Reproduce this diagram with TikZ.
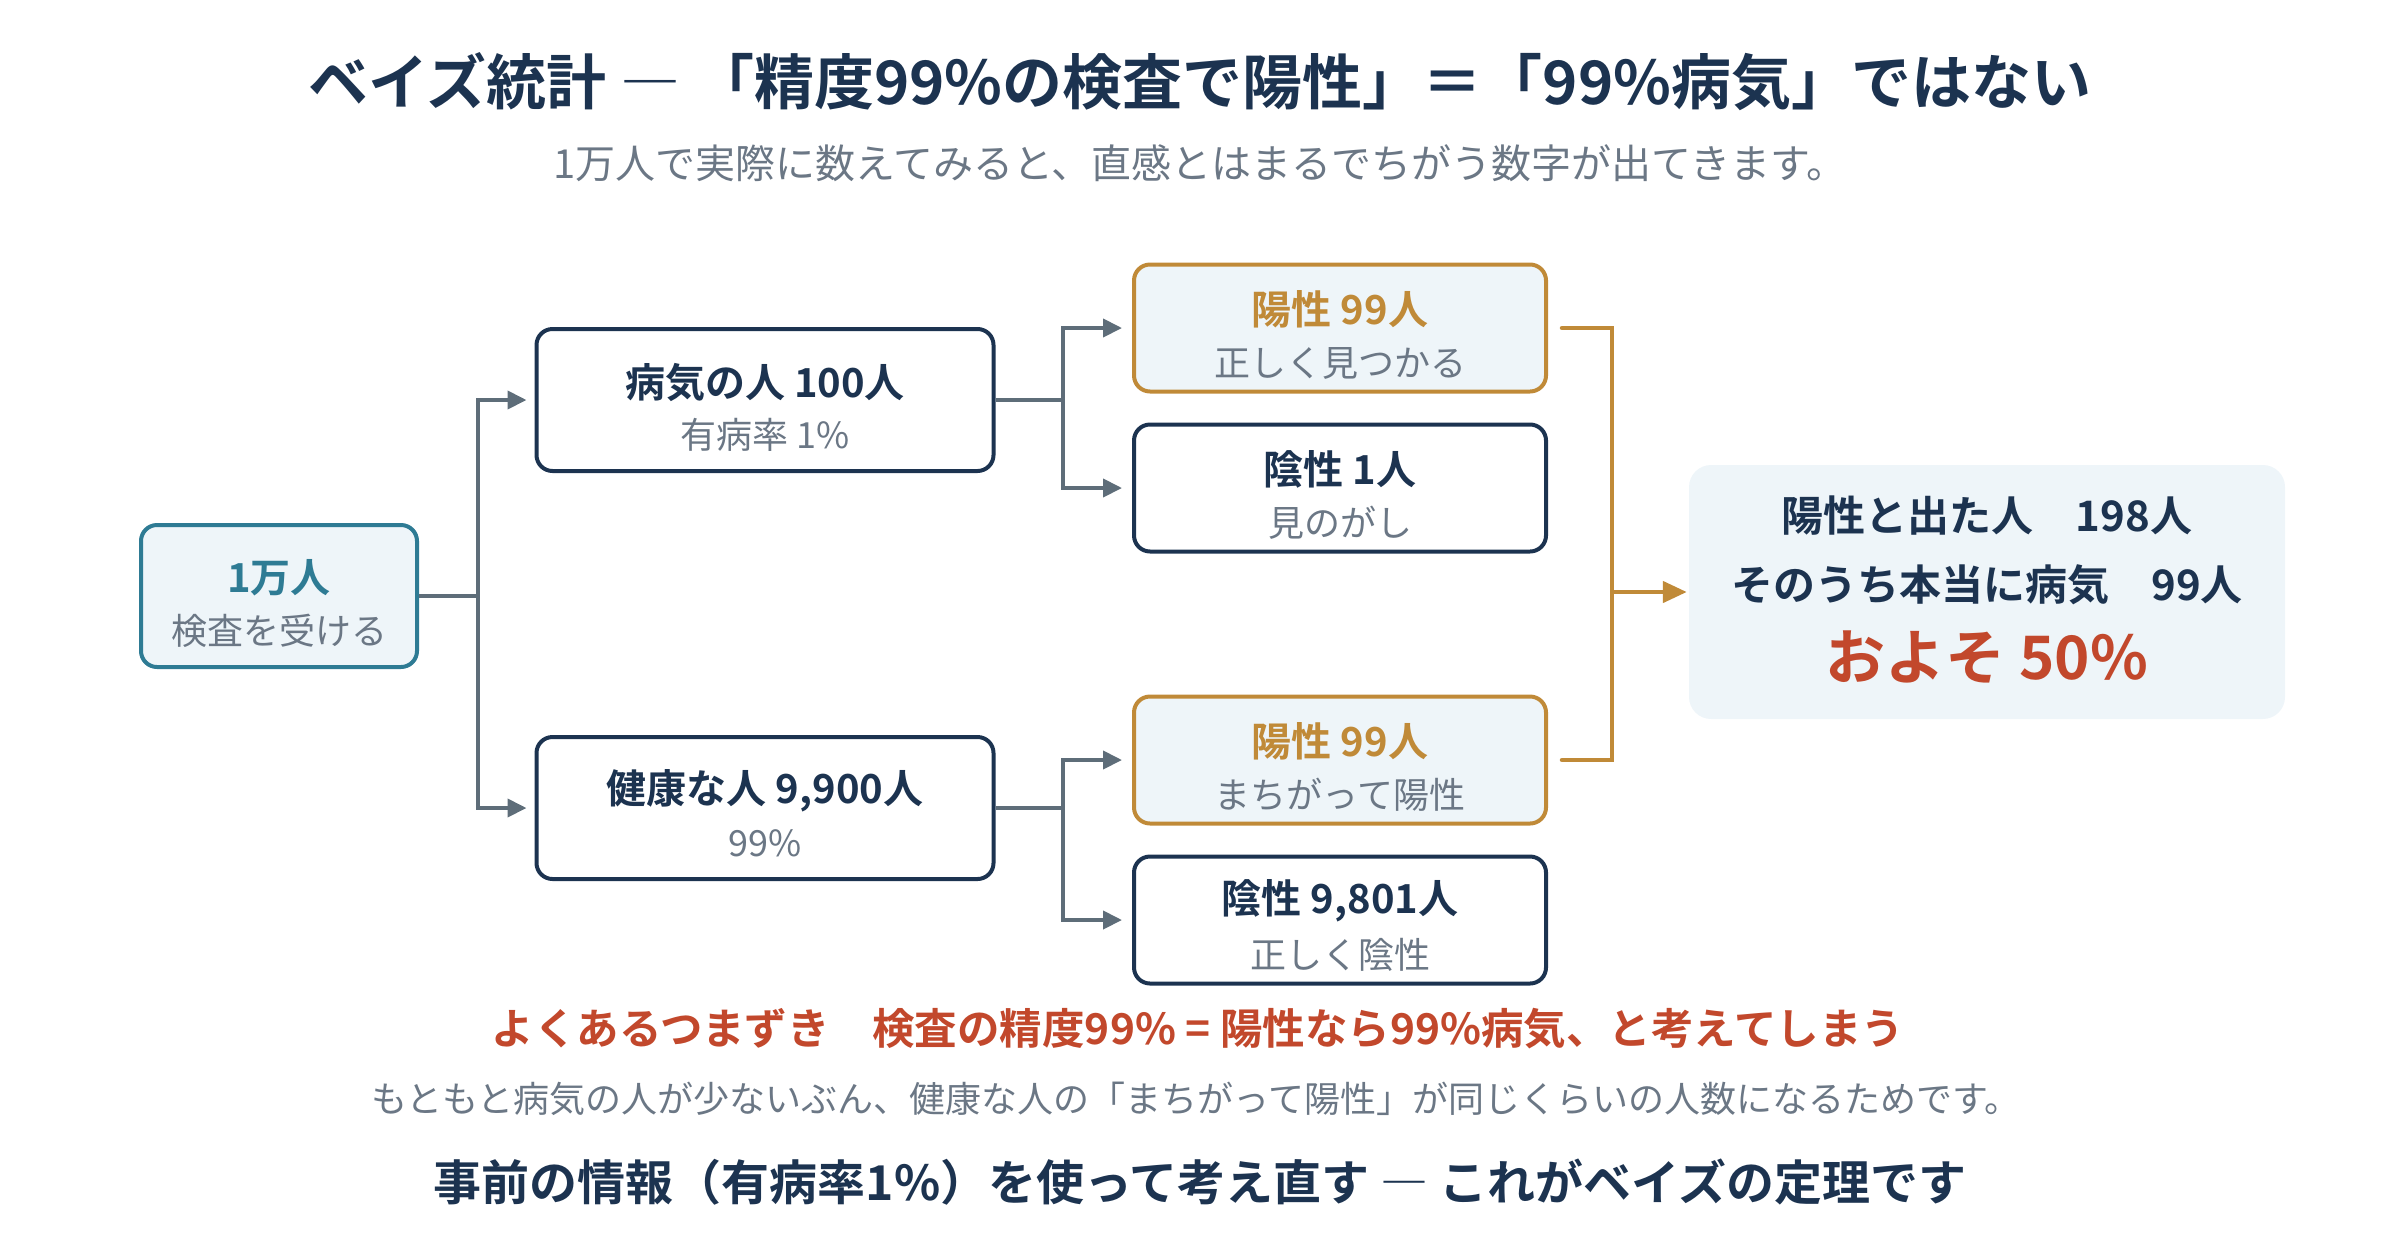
\documentclass[tikz,border=0pt]{standalone}
\usepackage{fontspec}
\setmainfont{Noto Sans CJK JP}[BoldFont={Noto Sans CJK JP Bold}]
\usetikzlibrary{arrows.meta,calc}
\definecolor{navy}{HTML}{1C3350}
\definecolor{graytxt}{HTML}{6B7785}
\definecolor{conncol}{HTML}{5E6D79}
\definecolor{tealc}{HTML}{2E7B94}
\definecolor{goldc}{HTML}{C08A38}
\definecolor{redc}{HTML}{C2482C}
\definecolor{lightfill}{HTML}{EEF5F9}
\newcommand\myfs[1]{\fontsize{#1}{#1}\selectfont}
\newcommand\thindash{{\mdseries ―}}
\begin{document}
\begin{tikzpicture}[x=1pt,y=-1pt,
  box/.style={draw, line width=4pt, rounded corners=16pt, inner sep=0pt},
  startbox/.style={box, draw=tealc, fill=lightfill, minimum width=276pt, minimum height=142pt},
  bigbox/.style={box, draw=navy, fill=white, minimum width=457pt, minimum height=142pt},
  posbox/.style={box, draw=goldc, fill=lightfill, minimum width=412pt, minimum height=127pt},
  negbox/.style={box, draw=navy, fill=white, minimum width=412pt, minimum height=127pt},
  sumbox/.style={fill=lightfill, rounded corners=22pt, minimum width=596pt, minimum height=254pt, inner sep=0pt},
  ttl/.style={inner sep=0pt, font=\bfseries\myfs{40}, text=navy},
  sub/.style={inner sep=0pt, font=\myfs{36}, text=graytxt},
  conn/.style={draw=conncol, line width=4pt, -{Triangle[length=19pt,width=18pt]}},
  gline/.style={draw=goldc, line width=4.5pt, line cap=round},
  garrow/.style={draw=goldc, line width=4.5pt, -{Triangle[length=24pt,width=21pt]}},
]
\useasboundingbox (0,0) rectangle (2400,1240);

% title
\node[inner sep=0pt, font=\bfseries\myfs{60}, text=navy] (title) at (1200,82) {ベイズ統計 \thindash{} 「精度99\%の検査で陽性」＝「99\%病気」ではない};
\node[inner sep=0pt, font=\myfs{40}, text=graytxt] (subtitle) at (1200,163) {1万人で実際に数えてみると、直感とはまるでちがう数字が出てきます。};

% boxes
\node[startbox] (start) at (279,596) {};
\node[ttl, text=tealc] (startT) at (279,578) {1万人};
\node[sub] (startS) at (279,631) {検査を受ける};

\node[bigbox] (sick) at (765,400) {};
\node[ttl] (sickT) at (765,383) {病気の人 100人};
\node[sub] (sickS) at (765,435) {有病率 1\%};

\node[bigbox] (healthy) at (765,808) {};
\node[ttl] (healthyT) at (765,791) {健康な人 9,900人};
\node[sub] (healthyS) at (765,843) {99\%};

\node[posbox] (pos1) at (1340,328) {};
\node[ttl, text=goldc] (pos1T) at (1340,309) {陽性 99人};
\node[sub] (pos1S) at (1340,363) {正しく見つかる};

\node[negbox] (neg1) at (1340,488) {};
\node[ttl] (neg1T) at (1340,469) {陰性 1人};
\node[sub] (neg1S) at (1340,523) {見のがし};

\node[posbox] (pos2) at (1340,760) {};
\node[ttl, text=goldc] (pos2T) at (1340,741) {陽性 99人};
\node[sub] (pos2S) at (1340,795) {まちがって陽性};

\node[negbox] (neg2) at (1340,920) {};
\node[ttl] (neg2T) at (1340,901) {陰性 9,801人};
\node[sub] (neg2S) at (1340,955) {正しく陰性};

\node[sumbox] (summary) at (1987,592) {};
\node[ttl, font=\bfseries\myfs{42}] (sum1) at (1987,516) {陽性と出た人　198人};
\node[ttl, font=\bfseries\myfs{42}] (sum2) at (1987,585) {そのうち本当に病気　99人};
\node[ttl, font=\bfseries\myfs{60}, text=redc] (sum3) at (1987,657) {およそ 50\%};

% connectors
\draw[conn, shorten >=8pt] (start.east) -- ++(59,0) |- (sick.west);
\draw[conn, shorten >=8pt] (start.east) -- ++(59,0) |- (healthy.west);
\draw[conn, shorten >=10pt] (sick.east) -- ++(67,0) |- (pos1.west);
\draw[conn, shorten >=10pt] (sick.east) -- ++(67,0) |- (neg1.west);
\draw[conn, shorten >=10pt] (healthy.east) -- ++(67,0) |- (pos2.west);
\draw[conn, shorten >=10pt] (healthy.east) -- ++(67,0) |- (neg2.west);

\coordinate (gj) at (1612,592);
\draw[gline] ([xshift=14pt]pos1.east) -| (gj) |- ([xshift=14pt]pos2.east);
\draw[garrow, shorten >=2pt] (gj) -- (summary.west);

% bottom texts
\node[inner sep=0pt, font=\bfseries\myfs{42.5}, text=redc] (warn) at (1198,1029) {よくあるつまずき　検査の精度99\% = 陽性なら99\%病気、と考えてしまう};
\node[inner sep=0pt, font=\myfs{36}, text=graytxt] (expl) at (1196,1099) {もともと病気の人が少ないぶん、健康な人の「まちがって陽性」が同じくらいの人数になるためです。};
\node[inner sep=0pt, font=\bfseries\myfs{48}, text=navy] (concl) at (1200,1182) {事前の情報（有病率1\%）を使って考え直す \thindash{} これがベイズの定理です};
\end{tikzpicture}
\end{document}
